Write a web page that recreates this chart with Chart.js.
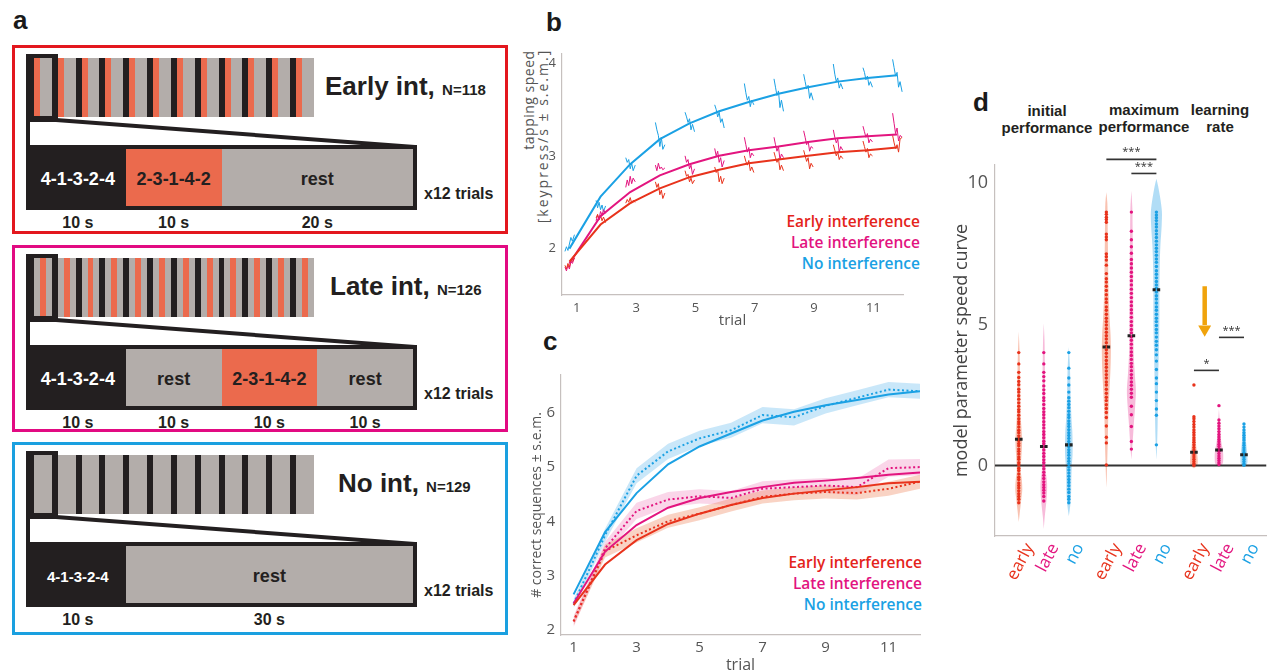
<!DOCTYPE html>
<html lang="en">
<head>
<meta charset="UTF-8">
<title>Interference during practice and motor sequence learning</title>
<script src="https://cdn.jsdelivr.net/npm/chart.js"></script>
<style>
  body { margin: 0; width: 1274px; height: 672px; position: relative; overflow: hidden; background: #fff;
         font-family: Arial, "Liberation Sans", sans-serif; color: #231f20; }
  .abs { position: absolute; }
  .panel-label { position: absolute; font-weight: bold; font-size: 26px; line-height: 26px; color: #1a1a1a; }
  .cond-box { position: absolute; left: 12px; width: 496px; box-sizing: border-box; border: 3px solid; }
  .row { position: absolute; display: flex; }
  .row > div { flex-basis: 0; display: flex; align-items: center; justify-content: center; font-weight: bold; white-space: nowrap; }
  .frame { position: absolute; box-sizing: border-box; border: 4px solid #231f20; }
  .bigbox { position: absolute; box-sizing: border-box; border: 4px solid #231f20; display: flex; }
  .bigbox > div { flex-basis: 0; display: flex; align-items: center; justify-content: center; font-weight: bold; padding-top: 4px; }
  .legend { position: absolute; width: 240px; text-align: right; font-family: "Open Sans", sans-serif;
            font-weight: 600; font-size: 15.5px; line-height: 21px; }
  .ytitle { position: absolute; transform: translate(-50%, -50%) rotate(-90deg); white-space: nowrap;
            font-family: "Open Sans", sans-serif; font-size: 14px; line-height: 14px; color: #555; }
  .gtitle { position: absolute; width: 120px; text-align: center; font-weight: bold; font-size: 15px; line-height: 17px; color: #231f20; }
  canvas { position: absolute; }
</style>
</head>
<body>
<div class="panel-label" style="left:13px; top:7px;">a</div>
<div class="panel-label" style="left:546px; top:9px;">b</div>
<div class="panel-label" style="left:543px; top:328px;">c</div>
<div class="panel-label" style="left:973px; top:89px;">d</div>

<div class="ytitle" style="left:529px; top:100px; letter-spacing:0.5px;">tapping speed</div>
<div class="ytitle" style="left:543px; top:136px; letter-spacing:2px;">[keypress/s ± s.e.m.]</div>

<div class="legend" style="left:680px; top:211px;">
  <div style="color:#e4241b">Early interference</div>
  <div style="color:#e2137f">Late interference</div>
  <div style="color:#1aa1e4">No interference</div>
</div>
<div class="legend" style="left:682px; top:552px;">
  <div style="color:#e4241b">Early interference</div>
  <div style="color:#e2137f">Late interference</div>
  <div style="color:#1aa1e4">No interference</div>
</div>

<div class="gtitle" style="left:987px; top:102px;">initial<br>performance</div>
<div class="gtitle" style="left:1084px; top:101px;">maximum<br>performance</div>
<div class="gtitle" style="left:1160px; top:101px;">learning<br>rate</div>

<canvas id="chartB" width="402" height="290" style="left:520px; top:40px;"></canvas>
<canvas id="chartC" width="402" height="312" style="left:520px; top:360px;"></canvas>
<canvas id="chartD" width="349" height="520" style="left:925px; top:140px;"></canvas>

<script>
// ---------- panel a: one trial of each condition (seconds) ----------
const nTrials = 12;
const earlySeg = [10, 10, 20];
const lateSeg = [10, 10, 10, 10];
const noSeg = [10, 30];
const earlyKinds = ['seq', 'int', 'rest'];
const lateKinds = ['seq', 'rest', 'int', 'rest'];
const noKinds = ['seq', 'rest'];
const kindLabel = { seq: '4-1-3-2-4', int: '2-3-1-4-2', rest: 'rest' };

// ---------- panel b: tapping speed ----------
const trialTicksB = [1, 3, 5, 7, 9, 11];
const speedTicksB = [2, 3, 4];
const speedX = [0.75, 1.8, 2.8, 3.8, 4.8, 5.8, 6.8, 7.8, 8.8, 9.8, 10.8, 11.8];
const speedEarly = [1.86, 2.26, 2.49, 2.65, 2.77, 2.85, 2.92, 2.96, 3.0, 3.04, 3.06, 3.09];
const speedLate = [1.84, 2.35, 2.61, 2.79, 2.91, 3.0, 3.06, 3.10, 3.15, 3.19, 3.21, 3.23];
const speedNo = [2.0, 2.56, 2.91, 3.18, 3.35, 3.48, 3.58, 3.67, 3.74, 3.80, 3.84, 3.87];
// within-trial traces, sampled across each practice period
const wiggleDx = [-0.15, -0.1, -0.05, 0, 0.05, 0.1, 0.17];
const wiggleEarly = [
  [1.82, 1.78, 1.84, 1.8, 1.88, 1.86, 1.9],
  [2.33, 2.37, 2.31, 2.36, 2.3, 2.34, 2.28],
  [2.49, 2.53, 2.5, 2.55, 2.49, 2.52, 2.5],
  [2.72, 2.66, 2.7, 2.58, 2.63, 2.54, 2.6],
  [2.84, 2.78, 2.8, 2.72, 2.76, 2.7, 2.74],
  [2.88, 2.82, 2.85, 2.72, 2.78, 2.7, 2.76],
  [3.0, 2.94, 2.9, 2.95, 2.84, 2.88, 2.82],
  [3.04, 2.98, 2.93, 2.97, 2.85, 2.9, 2.84],
  [3.06, 3.0, 2.94, 2.98, 2.86, 2.92, 2.88],
  [3.12, 3.06, 3.0, 3.04, 2.96, 3.0, 2.97],
  [3.16, 3.1, 3.04, 3.08, 2.98, 3.02, 3.0],
  [3.22, 3.14, 3.08, 3.12, 3.04, 3.18, 3.2]
];
const wiggleLate = [
  [1.8, 1.76, 1.82, 1.78, 1.86, 1.84, 1.9],
  [2.3, 2.36, 2.32, 2.4, 2.36, 2.42, 2.38],
  [2.66, 2.74, 2.68, 2.78, 2.7, 2.76, 2.72],
  [2.9, 2.84, 2.92, 2.86, 2.88, 2.85, 2.87],
  [3.0, 2.93, 2.96, 2.86, 2.9, 2.8, 2.86],
  [3.08, 3.0, 3.05, 2.93, 2.98, 2.88, 2.95],
  [3.2, 3.12, 3.04, 3.09, 2.98, 3.03, 3.0],
  [3.2, 3.12, 3.05, 3.1, 2.96, 3.02, 2.98],
  [3.27, 3.2, 3.12, 3.16, 3.05, 3.1, 3.08],
  [3.28, 3.2, 3.14, 3.18, 3.04, 3.1, 3.06],
  [3.32, 3.26, 3.2, 3.24, 3.14, 3.18, 3.15],
  [3.46, 3.35, 3.24, 3.3, 3.16, 3.22, 3.2]
];
const wiggleNo = [
  [1.97, 2.02, 1.98, 2.05, 2.12, 2.08, 2.15],
  [2.52, 2.44, 2.5, 2.42, 2.47, 2.4, 2.46],
  [2.98, 2.93, 2.96, 2.86, 2.92, 2.84, 2.9],
  [3.36, 3.28, 3.22, 3.1, 3.2, 3.07, 3.12],
  [3.47, 3.42, 3.36, 3.4, 3.28, 3.34, 3.26],
  [3.55, 3.5, 3.42, 3.47, 3.36, 3.4, 3.3],
  [3.78, 3.68, 3.6, 3.64, 3.53, 3.6, 3.55],
  [3.83, 3.74, 3.65, 3.7, 3.52, 3.6, 3.48],
  [3.88, 3.8, 3.72, 3.76, 3.62, 3.68, 3.6],
  [3.99, 3.88, 3.8, 3.84, 3.73, 3.78, 3.72],
  [3.95, 3.9, 3.82, 3.86, 3.76, 3.8, 3.74],
  [4.04, 3.95, 3.86, 3.9, 3.74, 3.8, 3.69]
];

// ---------- panel c: correct sequences ----------
const trialTicksC = [1, 3, 5, 7, 9, 11];
const seqTicksC = [2, 3, 4, 5, 6];
const seqTrials = [1, 2, 3, 4, 5, 6, 7, 8, 9, 10, 11, 12];
const seqEarlyFit = [2.45, 3.2, 3.65, 3.95, 4.14, 4.3, 4.43, 4.51, 4.57, 4.63, 4.7, 4.73];
const seqEarlyMean = [2.15, 3.45, 3.74, 4.0, 4.14, 4.3, 4.45, 4.51, 4.54, 4.52, 4.6, 4.73];
const seqEarlySem = [0.08, 0.12, 0.13, 0.12, 0.12, 0.12, 0.12, 0.12, 0.12, 0.12, 0.13, 0.13];
const seqLateFit = [2.48, 3.44, 3.93, 4.25, 4.43, 4.54, 4.63, 4.71, 4.75, 4.8, 4.86, 4.9];
const seqLateMean = [2.15, 3.5, 4.19, 4.4, 4.46, 4.43, 4.6, 4.63, 4.66, 4.63, 4.98, 5.0];
const seqLateSem = [0.1, 0.12, 0.15, 0.14, 0.13, 0.13, 0.14, 0.14, 0.14, 0.15, 0.16, 0.15];
const seqNoFit = [2.65, 3.8, 4.52, 5.05, 5.38, 5.62, 5.86, 6.02, 6.14, 6.24, 6.34, 6.4];
const seqNoMean = [2.48, 3.74, 4.84, 5.29, 5.53, 5.68, 5.96, 5.92, 6.13, 6.28, 6.43, 6.4];
const seqNoSem = [0.08, 0.12, 0.14, 0.14, 0.14, 0.14, 0.15, 0.15, 0.14, 0.14, 0.14, 0.14];

// ---------- panel d: model parameters ----------
const catPos = [1, 2, 3, 4.5, 5.5, 6.5, 8, 9, 10];
const catLabels = ['early', 'late', 'no', 'early', 'late', 'no', 'early', 'late', 'no'];
const paramTicksD = [0, 5, 10];
const paramMedians = [0.93, 0.67, 0.73, 4.2, 4.6, 6.23, 0.47, 0.55, 0.38];
const paramDots = [
  [4.0, 3.6, 3.3, 3.12, 2.98, 2.86, 2.7, 2.6, 2.47, 2.35, 2.22, 2.1, 1.98, 1.9, 1.78, 1.66, 1.55, 1.47, 1.36, 1.25, 1.16, 1.05, 0.96, 0.88, 0.78, 0.7, 0.58, 0.5, 0.41, 0.3, 0.22, 0.1, 0.02, -0.1, -0.18, -0.3, -0.42, -0.5, -0.62, -0.71, -0.8, -0.9, -1.0, -1.1, -1.2, -1.32],
  [4.0, 3.6, 3.3, 3.15, 3.0, 2.82, 2.68, 2.55, 2.4, 2.3, 2.16, 2.02, 1.9, 1.8, 1.68, 1.55, 1.44, 1.33, 1.2, 1.1, 0.98, 0.86, 0.77, 0.66, 0.55, 0.43, 0.32, 0.2, 0.1, -0.02, -0.12, -0.24, -0.35, -0.46, -0.58, -0.68, -0.78, -0.88, -0.98, -1.1, -1.26],
  [4.0, 3.45, 3.1, 2.85, 2.6, 2.4, 2.28, 2.16, 2.05, 1.92, 1.8, 1.7, 1.58, 1.48, 1.38, 1.27, 1.16, 1.06, 0.96, 0.85, 0.76, 0.66, 0.56, 0.46, 0.36, 0.25, 0.15, 0.05, -0.05, -0.16, -0.27, -0.38, -0.5, -0.6, -0.72, -0.84, -0.96, -1.1, -1.2, -1.32],
  [8.98, 8.9, 8.8, 8.72, 8.62, 8.2, 8.1, 8.0, 7.5, 7.4, 7.28, 7.1, 6.8, 6.62, 6.5, 6.35, 6.2, 6.05, 5.9, 5.78, 5.62, 5.5, 5.36, 5.22, 5.1, 4.98, 4.85, 4.72, 4.6, 4.48, 4.35, 4.22, 4.1, 3.98, 3.85, 3.72, 3.6, 3.48, 3.35, 3.22, 3.1, 2.96, 2.85, 2.7, 2.56, 2.42, 2.3, 2.15, 2.02, 1.88, 1.7, 1.4, 1.0, 0.8, 0.02],
  [8.98, 8.3, 8.0, 7.75, 7.52, 7.3, 7.15, 7.0, 6.85, 6.7, 6.55, 6.4, 6.25, 6.1, 5.95, 5.8, 5.66, 5.52, 5.4, 5.25, 5.1, 4.96, 4.82, 4.7, 4.56, 4.44, 4.3, 4.16, 4.02, 3.9, 3.76, 3.62, 3.5, 3.36, 3.22, 3.1, 2.96, 2.84, 2.7, 2.56, 2.42, 2.1, 1.8, 1.38, 0.85, 0.58],
  [8.98, 8.88, 8.78, 8.68, 8.56, 8.45, 8.32, 8.2, 8.08, 7.95, 7.82, 7.7, 7.58, 7.45, 7.32, 7.2, 7.05, 6.9, 6.78, 6.65, 6.52, 6.4, 6.28, 6.15, 6.02, 5.9, 5.76, 5.62, 5.5, 5.36, 5.22, 5.1, 4.96, 4.82, 4.7, 4.55, 4.4, 4.26, 4.1, 3.92, 3.7, 3.4, 3.1, 2.9, 2.6, 2.3, 2.0, 1.78, 0.73],
  [2.85, 1.73, 1.66, 1.56, 1.45, 1.36, 1.26, 1.17, 1.08, 0.98, 0.9, 0.82, 0.73, 0.64, 0.55, 0.47, 0.38, 0.3, 0.22, 0.14, 0.07, 0.01],
  [2.12, 1.61, 1.5, 1.4, 1.3, 1.2, 1.1, 1.01, 0.92, 0.84, 0.75, 0.67, 0.58, 0.5, 0.42, 0.34, 0.26, 0.18, 0.1, 0.03],
  [1.47, 1.36, 1.26, 1.16, 1.07, 0.98, 0.9, 0.8, 0.72, 0.63, 0.55, 0.47, 0.39, 0.3, 0.22, 0.14, 0.06, 0.01]
];
// violin outlines: density half-width (x units) at each level
const violinLevels = [
  [-2.0, -1.6, -1.2, -0.85, -0.5, -0.2, 0.1, 0.4, 0.7, 1.0, 1.3, 1.7, 2.2, 2.8, 3.4, 4.1, 4.75],
  [-2.25, -1.8, -1.3, -0.9, -0.6, -0.3, 0, 0.5, 1.0, 1.5, 2.0, 2.6, 3.2, 3.8, 4.4, 5.04],
  [-1.8, -1.4, -1.0, -0.5, 0, 0.4, 0.8, 1.2, 1.6, 2.0, 2.5, 3.0, 3.6, 4.2],
  [-0.8, -0.3, 0.3, 1.0, 1.8, 2.6, 3.3, 4.0, 4.6, 5.2, 5.8, 6.5, 7.2, 8.0, 8.8, 9.3, 9.68],
  [0.2, 0.8, 1.5, 2.1, 2.65, 3.2, 3.8, 4.5, 5.2, 6.0, 6.8, 7.6, 8.4, 9.1, 9.74],
  [0.2, 0.8, 1.5, 2.3, 3.0, 3.8, 4.6, 5.4, 6.2, 7.0, 7.8, 8.5, 9.0, 9.5, 9.9, 10.16],
  [-0.1, 0.0, 0.2, 0.4, 0.6, 0.9, 1.2, 1.5, 1.8],
  [-0.05, 0.05, 0.25, 0.5, 0.75, 1.0, 1.3, 1.6, 2.0],
  [-0.05, 0.05, 0.25, 0.5, 0.75, 1.0, 1.25, 1.5]
];
const violinWidths = [
  [0, 0.05, 0.1, 0.14, 0.12, 0.08, 0.09, 0.11, 0.13, 0.13, 0.11, 0.08, 0.07, 0.06, 0.05, 0.03, 0],
  [0, 0.04, 0.1, 0.13, 0.13, 0.09, 0.07, 0.07, 0.07, 0.06, 0.06, 0.05, 0.05, 0.04, 0.03, 0],
  [0, 0.06, 0.09, 0.1, 0.12, 0.15, 0.15, 0.14, 0.11, 0.09, 0.07, 0.06, 0.04, 0],
  [0, 0.02, 0.04, 0.06, 0.08, 0.12, 0.16, 0.18, 0.17, 0.13, 0.1, 0.08, 0.07, 0.06, 0.05, 0.04, 0],
  [0, 0.05, 0.1, 0.15, 0.18, 0.14, 0.1, 0.08, 0.08, 0.07, 0.07, 0.06, 0.05, 0.04, 0],
  [0, 0.03, 0.05, 0.06, 0.07, 0.09, 0.11, 0.12, 0.12, 0.13, 0.16, 0.21, 0.22, 0.15, 0.07, 0],
  [0, 0.13, 0.15, 0.13, 0.1, 0.07, 0.05, 0.04, 0],
  [0, 0.14, 0.17, 0.16, 0.11, 0.07, 0.05, 0.03, 0],
  [0, 0.12, 0.14, 0.12, 0.09, 0.07, 0.05, 0]
];
const sigBars = [
  { from: 4.5, to: 6.5, y: 10.85, label: '***' },
  { from: 5.5, to: 6.5, y: 10.35, label: '***' },
  { from: 8, to: 9, y: 3.37, label: '*' },
  { from: 9, to: 10, y: 4.54, label: '***' }
];

// ---------- colours ----------
const red = '#e8331c', pink = '#e3157f', blue = '#1ba1e4';
const groupColors = [red, pink, blue, red, pink, blue, red, pink, blue];
const violinFill = ['rgba(240,110,70,0.42)', 'rgba(232,60,150,0.35)', 'rgba(60,170,232,0.4)'];
const axisGray = '#c6c0be';
const tickGray = '#555';

// ---------- build panel a ----------
const kindColor = { seq: '#231f20', int: '#eb6a4d', rest: '#b3adaa' };
const kindText = { seq: '#ffffff', int: '#231f20', rest: '#231f20' };
const conditions = [
  { top: 45, height: 189, border: '#e3171e', title: 'Early int,', n: 'N=118', titleX: 325, seg: earlySeg, kinds: earlyKinds, seqFont: 18 },
  { top: 245, height: 187, border: '#e20a82', title: 'Late int,', n: 'N=126', titleX: 330, seg: lateSeg, kinds: lateKinds, seqFont: 18 },
  { top: 442, height: 193, border: '#1aa0e0', title: 'No int,', n: 'N=129', titleX: 338, seg: noSeg, kinds: noKinds, seqFont: 15 }
];

function add(cls, css, html) {
  const d = document.createElement('div');
  if (cls) d.className = cls;
  d.style.cssText = css;
  if (html) d.innerHTML = html;
  document.body.appendChild(d);
  return d;
}

conditions.forEach(c => {
  const T = c.top;
  add('cond-box', `top:${T}px; height:${c.height}px; border-color:${c.border};`);
  // compressed view of the whole session
  const strip = add('row', `left:28px; top:${T + 13}px; width:286px; height:59px;`);
  for (let t = 0; t < nTrials; t++) {
    c.seg.forEach((d, i) => {
      const s = document.createElement('div');
      s.style.flexGrow = d;
      s.style.background = kindColor[c.kinds[i]];
      strip.appendChild(s);
    });
  }
  // zoom wedge
  const svg = document.createElementNS('http://www.w3.org/2000/svg', 'svg');
  svg.setAttribute('width', '420');
  svg.setAttribute('height', '40');
  svg.style.cssText = `position:absolute; left:0; top:${T + 68}px;`;
  svg.innerHTML = '<polygon points="28,7 28,34 415,34 56,7" fill="#fff" stroke="#231f20" stroke-width="4" stroke-linejoin="miter"/>';
  document.body.appendChild(svg);
  add('frame', `left:26px; top:${T + 9}px; width:32px; height:66px;`);
  // one trial, expanded
  const box = add('bigbox', `left:26px; top:${T + 100}px; width:391px; height:65px;`);
  c.seg.forEach((d, i) => {
    const s = document.createElement('div');
    const k = c.kinds[i];
    s.style.flexGrow = d;
    s.style.background = kindColor[k];
    s.style.color = kindText[k];
    s.style.fontSize = (k === 'seq' ? c.seqFont : 18) + 'px';
    s.textContent = kindLabel[k];
    box.appendChild(s);
  });
  const durs = add('row', `left:30px; top:${T + 169}px; width:383px; height:18px;`);
  c.seg.forEach(d => {
    const s = document.createElement('div');
    s.style.flexGrow = d;
    s.style.fontSize = '16px';
    s.textContent = d + ' s';
    durs.appendChild(s);
  });
  add('abs', `left:${c.titleX}px; top:${T + 28}px; font-weight:bold; font-size:26px; line-height:26px; white-space:nowrap;`,
      `${c.title} <span style="font-size:15px">${c.n}</span>`);
  add('abs', `left:424px; top:${T + 141}px; font-weight:bold; font-size:16px; line-height:16px; white-space:nowrap;`, 'x12 trials');
});

// ---------- chart helpers ----------
Chart.defaults.font.family = '"Open Sans", sans-serif';
Chart.defaults.color = tickGray;

function pts(xs, ys) { return xs.map((x, i) => ({ x, y: ys[i] })); }
function wigglePts(rows) {
  const out = [];
  rows.forEach((row, t) => {
    row.forEach((y, k) => out.push({ x: speedX[t] + wiggleDx[k], y }));
    out.push({ x: speedX[t] + 0.3, y: null });
  });
  return out;
}
function lineSet(data, color, width, extra) {
  return Object.assign({ data, borderColor: color, borderWidth: width, pointRadius: 0, fill: false, tension: 0, spanGaps: false }, extra || {});
}
function fixedTicks(list) { return s => { s.ticks = list.map(v => ({ value: v })); }; }

const baseOptions = (padding) => ({
  responsive: false,
  animation: false,
  layout: { padding },
  plugins: { legend: { display: false }, tooltip: { enabled: false } },
  events: []
});

// ---------- panel b ----------
new Chart(document.getElementById('chartB'), {
  type: 'line',
  data: {
    datasets: [
      lineSet(pts(speedX, speedEarly), red, 2),
      lineSet(pts(speedX, speedLate), pink, 2),
      lineSet(pts(speedX, speedNo), blue, 2),
      lineSet(wigglePts(wiggleEarly), red, 1),
      lineSet(wigglePts(wiggleLate), pink, 1),
      lineSet(wigglePts(wiggleNo), blue, 1)
    ]
  },
  options: Object.assign(baseOptions({ top: 7, right: 19, bottom: 0, left: 0 }), {
    scales: {
      x: {
        type: 'linear', min: 0.5, max: 12,
        afterBuildTicks: fixedTicks(trialTicksB),
        afterFit: s => { s.height = 35; },
        grid: { display: false, drawTicks: false },
        border: { color: axisGray, width: 1.2 },
        ticks: { padding: 5, font: { size: 13 } },
        title: { display: true, text: 'trial', color: tickGray, font: { size: 15 }, padding: { top: 0, bottom: 0 } }
      },
      y: {
        type: 'linear', min: 1.5, max: 4.1,
        afterBuildTicks: fixedTicks(speedTicksB),
        afterFit: s => { s.width = 42; },
        grid: { display: false, drawTicks: false },
        border: { color: axisGray, width: 1.2 },
        ticks: { padding: 6, font: { size: 13 } }
      }
    }
  })
});

// ---------- panel c ----------
function bandSets(mean, sem, fillColor) {
  const upper = mean.map((m, i) => m + sem[i]);
  const lower = mean.map((m, i) => m - sem[i]);
  return [
    lineSet(pts(seqTrials, upper), 'rgba(0,0,0,0)', 0, { order: 10 }),
    lineSet(pts(seqTrials, lower), 'rgba(0,0,0,0)', 0, { order: 10, fill: '-1', backgroundColor: fillColor })
  ];
}
new Chart(document.getElementById('chartC'), {
  type: 'line',
  data: {
    datasets: [
      ...bandSets(seqEarlyMean, seqEarlySem, 'rgba(240,140,100,0.38)'),
      ...bandSets(seqLateMean, seqLateSem, 'rgba(232,70,155,0.22)'),
      ...bandSets(seqNoMean, seqNoSem, 'rgba(60,170,232,0.28)'),
      lineSet(pts(seqTrials, seqEarlyMean), red, 2, { borderDash: [2, 2.5], order: 5 }),
      lineSet(pts(seqTrials, seqLateMean), pink, 2, { borderDash: [2, 2.5], order: 5 }),
      lineSet(pts(seqTrials, seqNoMean), blue, 2, { borderDash: [2, 2.5], order: 5 }),
      lineSet(pts(seqTrials, seqEarlyFit), red, 2, { order: 1 }),
      lineSet(pts(seqTrials, seqLateFit), pink, 2, { order: 1 }),
      lineSet(pts(seqTrials, seqNoFit), blue, 2, { order: 1 })
    ]
  },
  options: Object.assign(baseOptions({ top: 10, right: 2, bottom: 0, left: 0 }), {
    scales: {
      x: {
        type: 'linear', min: 0.6, max: 12,
        afterBuildTicks: fixedTicks(trialTicksC),
        afterFit: s => { s.height = 37; },
        grid: { display: false, drawTicks: false },
        border: { color: axisGray, width: 1.2 },
        ticks: { padding: 4, font: { size: 15 } },
        title: { display: true, text: 'trial', color: tickGray, font: { size: 16 }, padding: { top: 0, bottom: -3 } }
      },
      y: {
        type: 'linear', min: 1.9, max: 6.7,
        afterBuildTicks: fixedTicks(seqTicksC),
        afterFit: s => { s.width = 41; },
        grid: { display: false, drawTicks: false },
        border: { color: axisGray, width: 1.2 },
        ticks: { padding: 6, font: { size: 15 } },
        title: { display: true, text: '# correct sequences ± s.e.m.', color: tickGray, font: { size: 14 }, padding: { top: 9, bottom: 0 } }
      }
    }
  })
});

// ---------- panel d ----------
const dSets = [];
catPos.forEach((cx, g) => {
  const lv = violinLevels[g], w = violinWidths[g];
  const outline = lv.map((y, i) => ({ x: cx + w[i], y }))
    .concat(lv.slice().reverse().map((y, i) => ({ x: cx - w[w.length - 1 - i], y })));
  dSets.push(lineSet(outline, 'rgba(0,0,0,0)', 0, { fill: 'shape', backgroundColor: violinFill[g % 3], tension: 0.35, order: 20 }));
  dSets.push({ data: paramDots[g].map(y => ({ x: cx, y })), showLine: false, pointRadius: 1.7, pointBorderWidth: 0,
               pointBackgroundColor: groupColors[g], order: 8 });
  dSets.push({ data: [{ x: cx - 0.09, y: paramMedians[g] }, { x: cx + 0.09, y: paramMedians[g] }], showLine: false,
               pointStyle: 'rect', pointRadius: 2.2, pointBorderWidth: 0, pointBackgroundColor: '#222', order: 2 });
});
dSets.push(lineSet([{ x: 0.05, y: 0 }, { x: 10.9, y: 0 }], '#333', 2, { order: 12 }));
sigBars.forEach(b => dSets.push(lineSet([{ x: b.from, y: b.y }, { x: b.to, y: b.y }], '#333', 1.6, { order: 1, clip: false })));
// arrow marking the learning-rate effect
dSets.push(lineSet([{ x: 8.43, y: 6.35 }, { x: 8.43, y: 4.98 }], '#f0a30c', 4.5, { order: 1 }));
dSets.push({ data: [{ x: 8.43, y: 4.83 }], showLine: false, pointStyle: 'triangle', rotation: 180, pointRadius: 7.5,
             pointBorderWidth: 0, pointBackgroundColor: '#f0a30c', order: 1 });

const sigText = {
  id: 'sigText',
  afterDatasetsDraw(chart) {
    const { ctx, scales: { x, y } } = chart;
    ctx.save();
    ctx.font = '11px "Open Sans", sans-serif';
    ctx.fillStyle = '#333';
    ctx.textAlign = 'center';
    ctx.textBaseline = 'middle';
    sigBars.forEach(b => ctx.fillText(b.label, x.getPixelForValue((b.from + b.to) / 2), y.getPixelForValue(b.y) - 7));
    ctx.restore();
  }
};

new Chart(document.getElementById('chartD'), {
  type: 'line',
  data: { datasets: dSets },
  plugins: [sigText],
  options: Object.assign(baseOptions({ top: 25, right: 0, bottom: 0, left: 0 }), {
    scales: {
      x: {
        type: 'linear', min: 0.05, max: 10.9,
        afterBuildTicks: fixedTicks(catPos),
        afterFit: s => { s.height = 124; },
        grid: { display: false, drawTicks: false },
        border: { color: axisGray, width: 1.2 },
        ticks: {
          autoSkip: false, minRotation: 62, maxRotation: 62, padding: 4, labelOffset: 11,
          font: { size: 17 },
          callback: v => { const i = catPos.indexOf(v); return i >= 0 ? catLabels[i] : ''; },
          color: ctx => groupColors[Math.max(0, catPos.indexOf(ctx.tick.value))]
        }
      },
      y: {
        type: 'linear', min: -2.5, max: 10.65,
        afterBuildTicks: fixedTicks(paramTicksD),
        afterFit: s => { s.width = 70; },
        grid: { display: false, drawTicks: false },
        border: { color: axisGray, width: 1.2 },
        ticks: { padding: 7, font: { size: 18 } },
        title: { display: true, text: 'model parameter speed curve', color: '#444', font: { size: 18 }, padding: { top: 26, bottom: 0 } }
      }
    }
  })
});
</script>
</body>
</html>
